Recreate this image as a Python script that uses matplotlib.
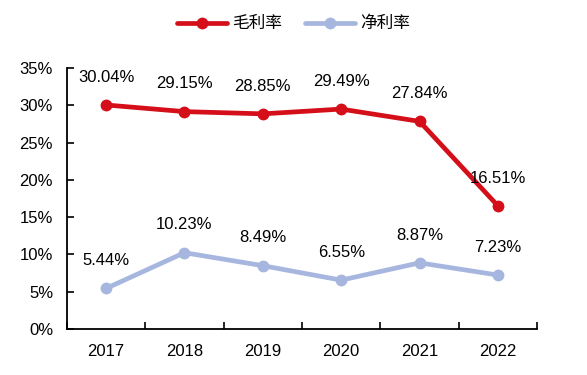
import matplotlib
matplotlib.use("Agg")
import matplotlib.pyplot as plt
from matplotlib.ticker import FixedLocator, PercentFormatter

plt.rcParams['font.family'] = ['Noto Sans CJK SC', 'DejaVu Sans']

years = ["2017", "2018", "2019", "2020", "2021", "2022"]
gross = [30.04, 29.15, 28.85, 29.49, 27.84, 16.51]
net = [5.44, 10.23, 8.49, 6.55, 8.87, 7.23]
series_names = ["毛利率", "净利率"]

red = "#D50F19"
blue = "#A6B6DE"
num_font = 'Liberation Sans'

fig = plt.figure(figsize=(5.87, 3.75), dpi=100)
ax = fig.add_axes([0.114, 0.1227, 0.801, 0.696])

x = list(range(len(years)))
ax.plot(x, gross, color=red, lw=3.4, marker='o', ms=7.5, label=series_names[0], solid_capstyle='round')
ax.plot(x, net, color=blue, lw=3.4, marker='o', ms=7.5, label=series_names[1], solid_capstyle='round')

for series in (gross, net):
    for xi, v in zip(x, series):
        ax.annotate(f"{v:.2f}%", (xi, v), xytext=(0, 20), textcoords='offset points',
                    ha='center', va='center', fontsize=12, family=num_font)

ax.set_xlim(-0.5, len(years) - 0.5)
ax.set_ylim(0, 35)
ax.yaxis.set_major_locator(FixedLocator([0, 5, 10, 15, 20, 25, 30, 35]))
ax.yaxis.set_major_formatter(PercentFormatter(decimals=0))
ax.set_xticks(x)
ax.set_xticklabels(years)
ax.xaxis.set_minor_locator(FixedLocator([i - 0.5 for i in range(len(years) + 1)]))
ax.tick_params(axis='x', which='major', length=0, pad=11, labelsize=12)
ax.tick_params(axis='x', which='minor', direction='in', length=5, width=1.2)
ax.tick_params(axis='y', direction='in', length=5, width=1.2, labelsize=12, pad=10)
for lbl in ax.get_xticklabels() + ax.get_yticklabels():
    lbl.set_family(num_font)

for s in ['top', 'right']:
    ax.spines[s].set_visible(False)
for s in ['left', 'bottom']:
    ax.spines[s].set_linewidth(1.3)

fig.legend(loc='upper center', bbox_to_anchor=(0.5, 0.99), ncol=2, frameon=False,
           fontsize=12, handlelength=3.0, handletextpad=0.3, columnspacing=1.4,
           borderaxespad=0.3)

fig.savefig("out.png", dpi=100)
